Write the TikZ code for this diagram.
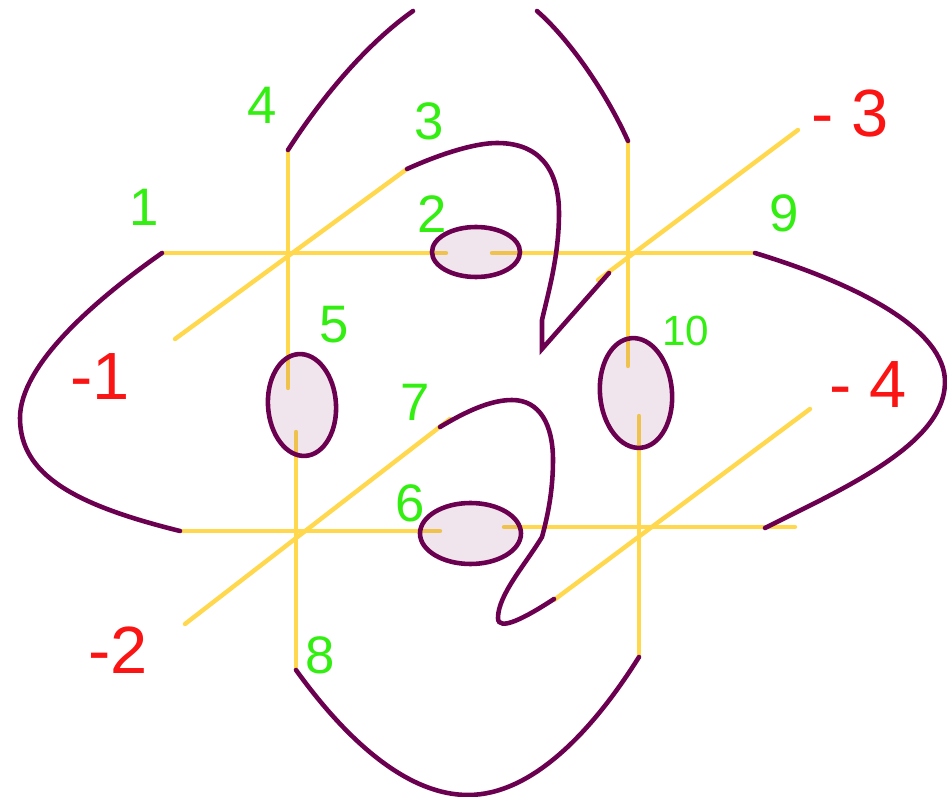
\documentclass[tikz,border=0pt]{standalone}
\usepackage{fontspec}
\usepackage{xcolor}
\setmainfont{Liberation Sans}
\definecolor{tangleplum}{RGB}{107,0,80}
\definecolor{bandyellow}{RGB}{255,216,77}
\definecolor{posgreen}{RGB}{51,238,17}
\definecolor{negred}{RGB}{250,20,20}
\begin{document}
\begin{tikzpicture}[x=0.01cm, y=-0.01cm,
    band/.style={bandyellow, line width=1.25pt, line cap=round},
    strand/.style={tangleplum, line width=1.3pt, line cap=round},
    hole/.style={draw=tangleplum, line width=1.3pt, fill=tangleplum, fill opacity=0.1, draw opacity=1},
    poslabel/.style={text=posgreen, font=\fontsize{15}{17}\selectfont},
    neglabel/.style={text=negred, font=\fontsize{19}{21}\selectfont}]
    \useasboundingbox (0,0) rectangle (947,797);
    \draw[band] (162,253) -- (446,253);
    \draw[band] (492,253) -- (755,253);
    \draw[band] (288,150) -- (288,388);
    \draw[band] (175,339) -- (407,169);
    \draw[band] (628,141) -- (628,366);
    \draw[band] (598,280) -- (798,130);
    \draw[band] (296,432) -- (296,670);
    \draw[band] (180,531) -- (440,531);
    \draw[band] (185,624) -- (450,419);
    \draw[band] (504,527) -- (795,527);
    \draw[band] (639,416) -- (639,657);
    \draw[band] (554,600) -- (810,409);
    \draw[hole] (476,252) ellipse [x radius=44, y radius=25];
    \draw[hole, rotate around={4:(302,405)}] (302,405) ellipse [x radius=34, y radius=51];
    \draw[hole, rotate around={5:(636,393)}] (636,393) ellipse [x radius=36, y radius=55];
    \draw[hole] (470.5,533.5) ellipse [x radius=50.5, y radius=30.5];
    \draw[strand] (288,150) .. controls (320,100) and (365,45) .. (413,11);
    \draw[strand] (537,11) .. controls (568,38) and (605,90) .. (628,141);
    \draw[strand] (162,253) .. controls (95,300) and (20,365) .. (20,418) .. controls (20,475) and (75,505) .. (180,531);
    \draw[strand] (755,253) .. controls (860,285) and (945,330) .. (945,382) .. controls (945,445) and (840,490) .. (765,528);
    \draw[strand] (296,670) .. controls (350,745) and (410,795) .. (468,795) .. controls (530,795) and (590,735) .. (639,657);
    \draw[strand] (407,169) .. controls (440,154) and (475,143) .. (497,143) .. controls (540,143) and (559,170) .. (559,213) .. controls (559,255) and (549,290) .. (542,320) -- (542,349) -- (609,273);
    \draw[strand] (440,427) .. controls (465,412) and (490,400) .. (512,400) .. controls (540,400) and (553,425) .. (553,460) .. controls (553,490) and (548,515) .. (542,537) .. controls (525,565) and (498,595) .. (498,618) .. controls (498,632) and (525,618) .. (554,599);
    \node[poslabel] (one) at (144,207) {1};
    \node[poslabel] (two) at (432,214) {2};
    \node[poslabel] (three) at (429,121) {3};
    \node[poslabel] (four) at (262,105) {4};
    \node[poslabel] (five) at (334,325) {5};
    \node[poslabel] (six) at (410,503) {6};
    \node[poslabel] (seven) at (415,402) {7};
    \node[poslabel] (eight) at (320,655) {8};
    \node[poslabel] (nine) at (784,213) {9};
    \node[poslabel, font=\fontsize{12}{14}\selectfont] (ten) at (686,331) {10};
    \node[neglabel] (mone) at (100,377) {-1};
    \node[neglabel] (mtwo) at (118,650) {-2};
    \node[neglabel] (mthree) at (850,113) {- 3};
    \node[neglabel] (mfour) at (868,385) {- 4};
\end{tikzpicture}
\end{document}
